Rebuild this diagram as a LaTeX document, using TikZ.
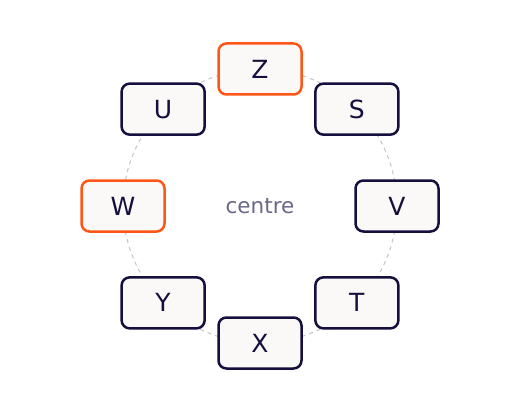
\documentclass[tikz,border=0pt]{standalone}
\usepackage{fontspec}
\setmainfont{DejaVu Sans}
\usetikzlibrary{calc}
\definecolor{navy}{HTML}{140F3C}
\definecolor{hot}{HTML}{FF5516}
\definecolor{boxfill}{HTML}{FBF9F8}
\definecolor{ring}{HTML}{C8C8CE}
\definecolor{ctext}{HTML}{6A6888}
\tikzset{
  item/.style={draw=navy, line width=2.5pt, fill=boxfill, rounded corners=8pt,
    minimum width=83pt, minimum height=51pt, text=navy, font=\fontsize{25}{28}\selectfont},
  hotitem/.style={item, draw=hot},
  ringline/.style={draw=ring, line width=1.1pt, dash pattern=on 4pt off 4pt}
}
\begin{document}
\begin{tikzpicture}[x=1pt,y=1pt]
\useasboundingbox (0,0) rectangle (520,416);
\coordinate (c) at (260,210);
\draw[ringline] (c) circle (137);
\node[ctext, font=\fontsize{21.5}{24}\selectfont] (centre) at (c) {centre};
\node[hotitem] (Z) at ($(c)+(90:137)$) {Z};
\node[item] (S) at ($(c)+(45:137)$) {S};
\node[item] (V) at ($(c)+(0:137)$) {V};
\node[item] (T) at ($(c)+(-45:137)$) {T};
\node[item] (X) at ($(c)+(-90:137)$) {X};
\node[item] (Y) at ($(c)+(-135:137)$) {Y};
\node[hotitem] (W) at ($(c)+(180:137)$) {W};
\node[item] (U) at ($(c)+(135:137)$) {U};
\end{tikzpicture}
\end{document}
